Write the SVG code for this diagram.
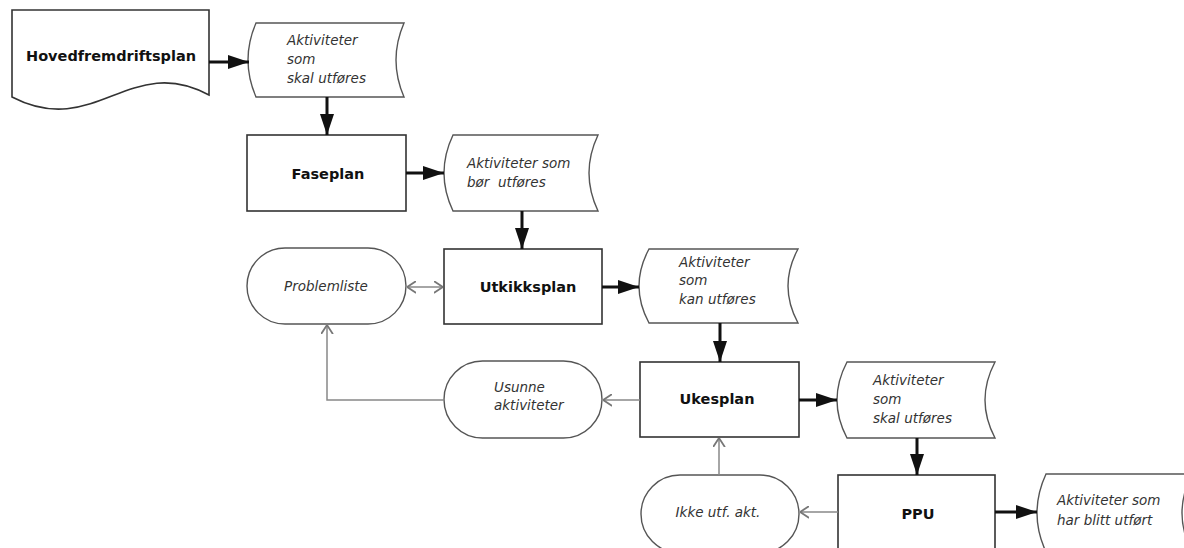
<svg xmlns="http://www.w3.org/2000/svg" width="1184" height="548" viewBox="0 0 1184 548">
<style>
.box{fill:#fff;stroke:#333;stroke-width:1.6}
.soft{fill:#fff;stroke:#555;stroke-width:1.4}
.title{font-family:"DejaVu Sans",sans-serif;font-weight:bold;font-size:14.5px;fill:#111;text-anchor:middle}
.it{font-family:"DejaVu Sans",sans-serif;font-style:italic;font-size:13.5px;fill:#333}
.itc{font-family:"DejaVu Sans",sans-serif;font-style:italic;font-size:13.5px;fill:#333;text-anchor:middle}
.strong{fill:none;stroke:#111;stroke-width:3}
.thin{fill:none;stroke:#888;stroke-width:1.5}
</style>
<defs>
<marker id="ah" viewBox="0 0 10 10" refX="10" refY="5" markerWidth="21" markerHeight="14" markerUnits="userSpaceOnUse" orient="auto" preserveAspectRatio="none">
<path d="M0,0 L10,5 L0,10 Z" fill="#111"/>
</marker>
<marker id="oh" viewBox="0 0 10 10" refX="10" refY="5" markerWidth="9" markerHeight="13" markerUnits="userSpaceOnUse" orient="auto-start-reverse" preserveAspectRatio="none">
<path d="M0,0.5 L10,5 L0,9.5" fill="none" stroke="#777" stroke-width="1.5"/>
</marker>
</defs>
<rect width="1184" height="548" fill="#fff"/>
<g id="hovedfremdriftsplan">
<path class="box" d="M12,10 H209 V95 C130,52 95,140 12,97 Z"/>
<text class="title" x="111" y="61">Hovedfremdriftsplan</text>
</g>
<g id="akt1">
<path class="soft" d="M256,23 H404 Q388,60 404,97 H256 Q240,60 256,23 Z"/>
<text class="it" x="287" y="45">Aktiviteter</text>
<text class="it" x="287" y="64">som</text>
<text class="it" x="287" y="83">skal utføres</text>
</g>
<g id="faseplan">
<rect class="box" x="247" y="135" width="159" height="76"/>
<text class="title" x="328" y="179">Faseplan</text>
</g>
<g id="akt2">
<path class="soft" d="M453,135 H598 Q580,173 598,211 H453 Q435,173 453,135 Z"/>
<text class="it" x="467" y="168">Aktiviteter som</text>
<text class="it" x="467" y="187" xml:space="preserve">bør  utføres</text>
</g>
<g id="problemliste">
<rect class="soft" x="247" y="248" width="159" height="76" rx="38" ry="38"/>
<text class="itc" x="326" y="291">Problemliste</text>
</g>
<g id="utkikksplan">
<rect class="box" x="444" y="249" width="158" height="75"/>
<text class="title" x="528" y="292">Utkikksplan</text>
</g>
<g id="akt3">
<path class="soft" d="M649,249 H798 Q778,286 798,323 H649 Q629,286 649,249 Z"/>
<text class="it" x="679" y="267">Aktiviteter</text>
<text class="it" x="679" y="285">som</text>
<text class="it" x="679" y="304">kan utføres</text>
</g>
<g id="usunne">
<rect class="soft" x="444" y="361" width="158" height="77" rx="38.5" ry="38.5"/>
<text class="it" x="494" y="392">Usunne</text>
<text class="it" x="494" y="410">aktiviteter</text>
</g>
<g id="ukesplan">
<rect class="box" x="640" y="362" width="159" height="75"/>
<text class="title" x="717" y="404">Ukesplan</text>
</g>
<g id="akt4">
<path class="soft" d="M847,362 H995 Q975,400 995,438 H847 Q827,400 847,362 Z"/>
<text class="it" x="873" y="385">Aktiviteter</text>
<text class="it" x="873" y="404">som</text>
<text class="it" x="873" y="423">skal utføres</text>
</g>
<g id="ikke">
<rect class="soft" x="641" y="475" width="158" height="78" rx="39" ry="39"/>
<text class="itc" x="718" y="517">Ikke utf. akt.</text>
</g>
<g id="ppu">
<rect class="box" x="838" y="475" width="157" height="80"/>
<text class="title" x="918" y="519">PPU</text>
</g>
<g id="akt5">
<path class="soft" d="M1046,474 H1192 Q1172,513 1192,552 H1046 Q1028,513 1046,474 Z"/>
<text class="it" x="1057" y="505">Aktiviteter som</text>
<text class="it" x="1057" y="525">har blitt utført</text>
</g>
<g id="connectors">
<path class="strong" d="M209,62 H249" marker-end="url(#ah)"/>
<path class="strong" d="M327,97 V135" marker-end="url(#ah)"/>
<path class="strong" d="M406,173 H444" marker-end="url(#ah)"/>
<path class="strong" d="M522,211 V249" marker-end="url(#ah)"/>
<path class="strong" d="M602,287 H639" marker-end="url(#ah)"/>
<path class="strong" d="M720,323 V362" marker-end="url(#ah)"/>
<path class="strong" d="M799,400 H837" marker-end="url(#ah)"/>
<path class="strong" d="M917,438 V475" marker-end="url(#ah)"/>
<path class="strong" d="M995,512 H1037" marker-end="url(#ah)"/>
<path class="thin" d="M407,287 H443" marker-start="url(#oh)" marker-end="url(#oh)"/>
<path class="thin" d="M640,400 H603" marker-end="url(#oh)"/>
<path class="thin" d="M444,400 H327 V325" marker-end="url(#oh)"/>
<path class="thin" d="M838,512 H800" marker-end="url(#oh)"/>
<path class="thin" d="M719,475 V438" marker-end="url(#oh)"/>
</g>
</svg>
